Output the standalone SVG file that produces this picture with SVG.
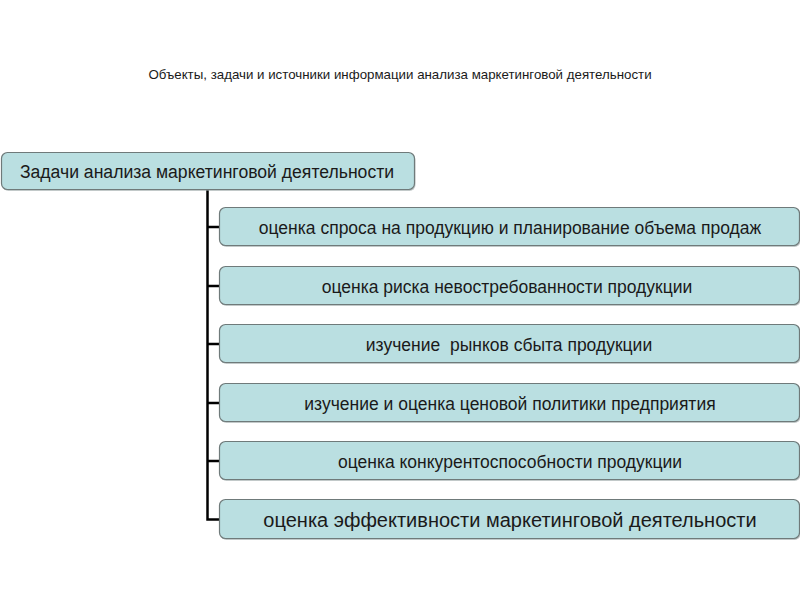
<svg xmlns="http://www.w3.org/2000/svg" width="800" height="600" viewBox="0 0 800 600">
<defs>
<style>
.box{fill:#badfe1;stroke:#6f7a7a;stroke-width:1.2}
.sh{fill:#9aa5a5;opacity:0.6}
.t{font-family:"Liberation Sans",Arial,sans-serif;fill:#1a1a1a;text-anchor:middle;white-space:pre}
.b{font-size:17.5px}
.ln{stroke:#000;stroke-width:2.5;fill:none}
</style>
</defs>
<rect width="800" height="600" fill="#fff"/>
<text class="t" x="400" y="79" font-size="13.3">Объекты, задачи и источники информации анализа маркетинговой деятельности</text>
<g id="connectors">
<path class="ln" d="M207.5 190 V519.5 H220"/>
<path class="ln" d="M207.5 227 H220 M207.5 286 H220 M207.5 344 H220 M207.5 403 H220 M207.5 461 H220"/>
</g>
<g id="root">
<rect class="sh" x="2.5" y="154" width="413" height="37" rx="6"/>
<rect class="box" x="1.5" y="152.5" width="413" height="37" rx="6"/>
<text class="t" x="207" y="177.5" font-size="17.6">Задачи анализа маркетинговой деятельности</text>
</g>
<g id="n1">
<rect class="sh" x="220.5" y="209" width="580" height="38" rx="6"/>
<rect class="box" x="219.5" y="207.5" width="580" height="38" rx="6"/>
<text class="t b" x="510" y="233.5">оценка спроса на продукцию и планирование объема продаж</text>
</g>
<g id="n2">
<rect class="sh" x="220.5" y="268" width="580" height="38" rx="6"/>
<rect class="box" x="219.5" y="266.5" width="580" height="38" rx="6"/>
<text class="t b" x="507" y="292.5">оценка риска невостребованности продукции</text>
</g>
<g id="n3">
<rect class="sh" x="220.5" y="326" width="580" height="38" rx="6"/>
<rect class="box" x="219.5" y="324.5" width="580" height="38" rx="6"/>
<text class="t b" x="509" y="350.5" xml:space="preserve">изучение  рынков сбыта продукции</text>
</g>
<g id="n4">
<rect class="sh" x="220.5" y="385" width="580" height="38" rx="6"/>
<rect class="box" x="219.5" y="383.5" width="580" height="38" rx="6"/>
<text class="t b" x="510" y="409.5">изучение и оценка ценовой политики предприятия</text>
</g>
<g id="n5">
<rect class="sh" x="220.5" y="443" width="580" height="38" rx="6"/>
<rect class="box" x="219.5" y="441.5" width="580" height="38" rx="6"/>
<text class="t b" x="510" y="467.5">оценка конкурентоспособности продукции</text>
</g>
<g id="n6">
<rect class="sh" x="220.5" y="501" width="580" height="39" rx="6"/>
<rect class="box" x="219.5" y="499.5" width="580" height="39" rx="6"/>
<text class="t" x="510" y="527" font-size="20">оценка эффективности маркетинговой деятельности</text>
</g>
</svg>
